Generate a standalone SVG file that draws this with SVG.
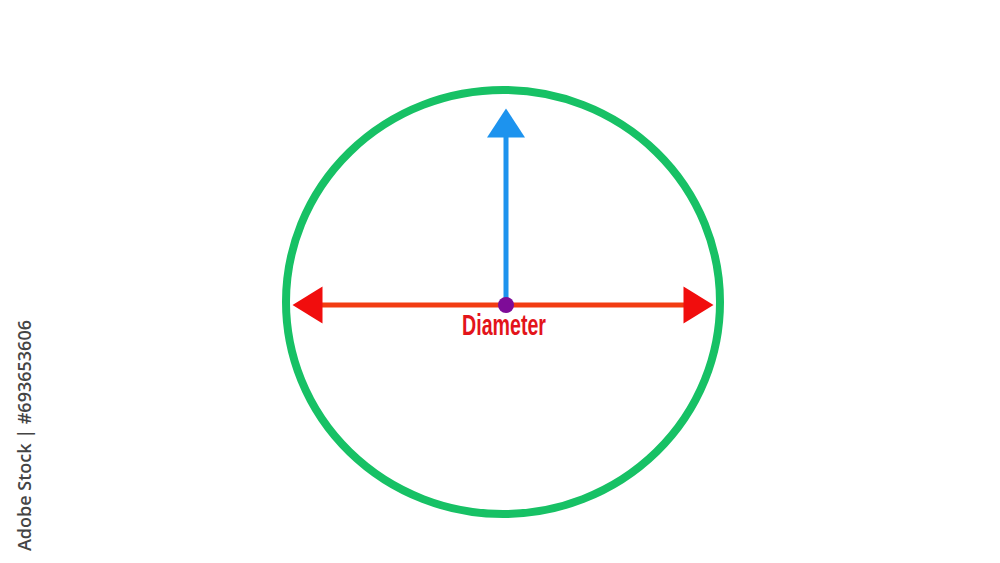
<svg xmlns="http://www.w3.org/2000/svg" width="1000" height="563" viewBox="0 0 1000 563">
  <style>
    .ring { fill: none; stroke: #17C165; stroke-width: 8; }
    .diam { stroke: #F23C12; stroke-width: 5; fill: none; }
    .radius { stroke: #1D93EE; stroke-width: 5; fill: none; }
    .label { font-family: "Liberation Sans Narrow", "Liberation Sans", "DejaVu Sans Condensed", sans-serif; font-size: 29px; font-weight: bold; fill: #E3141A; }
    .mark { font-family: "Open Sans", "Liberation Sans", sans-serif; font-size: 18px; font-weight: 600; fill: #444444; }
  </style>
  <defs>
    <marker id="redHead" markerUnits="userSpaceOnUse" markerWidth="31" markerHeight="37" refX="0.5" refY="18.5" orient="auto-start-reverse" overflow="visible">
      <path d="M0,0 L30,18.5 L0,37 Z" fill="#F10D0D"/>
    </marker>
    <marker id="blueHead" markerUnits="userSpaceOnUse" markerWidth="30" markerHeight="38" refX="0.5" refY="19" orient="auto" overflow="visible">
      <path d="M0,0 L29,19 L0,38 Z" fill="#1D93EE"/>
    </marker>
  </defs>
  <rect width="1000" height="563" fill="#FFFFFF"/>
  <g id="circle">
    <ellipse class="ring" cx="503" cy="302" rx="217" ry="212"/>
  </g>
  <g id="connectors">
    <line class="diam" x1="322" y1="305" x2="684" y2="305" marker-start="url(#redHead)" marker-end="url(#redHead)"/>
    <line class="radius" x1="506" y1="305" x2="506" y2="137" marker-end="url(#blueHead)"/>
  </g>
  <g id="center">
    <circle cx="506" cy="305" r="8" fill="#7E0C98"/>
  </g>
  <g id="label">
    <text class="label" x="504" y="335" text-anchor="middle" textLength="84" lengthAdjust="spacingAndGlyphs">Diameter</text>
  </g>
  <g id="watermark">
    <text class="mark" transform="translate(31,320) rotate(-90)" text-anchor="end">Adobe Stock | #693653606</text>
  </g>
</svg>
